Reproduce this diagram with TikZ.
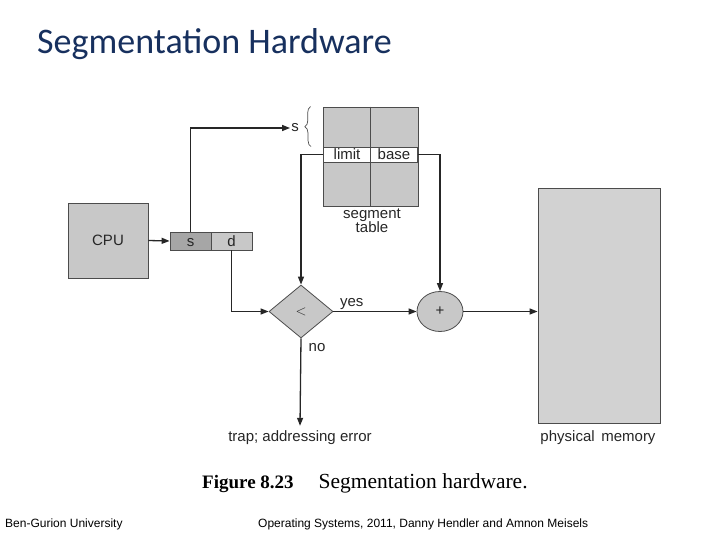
\documentclass[tikz,border=0pt]{standalone}
\usepackage{fontspec}
\setmainfont{Liberation Sans}
\newfontfamily\titlefont{Carlito}
\newfontfamily\capfont{Liberation Serif}
\usetikzlibrary{arrows.meta,shapes.geometric,decorations.pathreplacing}
\definecolor{titleblue}{HTML}{17305E}
\definecolor{boxgray}{HTML}{C8C8C8}
\definecolor{darkgray}{HTML}{A6A6A6}
\definecolor{memgray}{HTML}{D2D2D2}
\begin{document}
\begin{tikzpicture}[x=1pt,y=-1pt,
    box/.style={draw=black!70, fill=boxgray, line width=0.8pt, inner sep=0pt},
    cell/.style={box, minimum width=47pt, minimum height=15pt},
    flow/.style={line width=1.3pt, draw=black!85},
    arr/.style={flow, -{Triangle[length=8pt,width=6pt]}},
    lbl/.style={font=\fontsize{15}{17}\selectfont, text=black!85, inner sep=1pt}]
    \useasboundingbox (0,0) rectangle (720,540);
    % title
    \node[anchor=base west, inner sep=0pt, text=titleblue,
          font=\titlefont\fontsize{36}{40}\selectfont] (title) at (37,54) {Segmentation Hardware};
    % cpu and logical address
    \node[box, minimum width=80pt, minimum height=75pt, lbl] (cpu) at (108,240.5) {CPU};
    \node[box, fill=darkgray, minimum width=41pt, minimum height=18pt, lbl, inner sep=0pt,
          text height=10.5pt, text depth=0pt] (scell) at (190.5,241) {s};
    \node[box, minimum width=41pt, minimum height=18pt, lbl, inner sep=0pt,
          text height=10.5pt, text depth=0pt] (dcell) at (231.5,241) {d};
    % segment table
    \node[box, minimum width=95pt, minimum height=99pt] (segtab) at (370.5,156.5) {};
    \draw[black!70, line width=0.8pt] (segtab.north) -- (segtab.south);
    \node[cell, fill=white, lbl, inner sep=0pt] (limit) at (347,154.5) {limit};
    \node[cell, fill=white, lbl, inner sep=0pt] (base) at (394,154.5) {base};
    \node[lbl, align=center] (seglbl) at (372,221) {segment\\[-3pt]table};
    \node[lbl] (slbl) at (295,128) {s};
    \draw[black!70, line width=0.7pt, decorate, decoration={brace, amplitude=6pt}]
        ([xshift=-12pt]limit.north west) -- ([xshift=-12pt]segtab.north west);
    % compare and add
    \node[box, diamond, minimum width=64pt, minimum height=53pt, lbl] (cmp) at (301,311.5) {$<$};
    \node[box, ellipse, minimum width=46pt, minimum height=40pt, lbl] (add) at (440,311.5) {+};
    \node[box, fill=memgray, minimum width=122pt, minimum height=235pt] (mem) at (599,305.5) {};
    \node[lbl] (memlbl) at (598,438) {physical\, memory};
    \node[lbl] (trap) at (300,438) {trap; addressing error};
    \node[lbl] (no) at (317,348) {no};
    % connectors
    \draw[arr] (cpu.east) -- (scell.west);
    \draw[arr] (scell.north) |- (slbl.west);
    \draw[arr] (limit.west) -| (cmp.north);
    \draw[arr] (base.east) -| (add.north);
    \draw[arr] (dcell.south) |- (cmp.west);
    \draw[arr] (cmp.east) -- node[lbl, pos=0.22, above] (yes) {yes} (add.west);
    \draw[arr] (add.east) -- (add.east -| mem.west);
    \draw[arr] (cmp.south) -- ([yshift=4pt]trap.north);
    % caption and footer
    \node[anchor=base west, inner sep=0pt, font=\capfont] (caption) at (202,488)
        {{\fontsize{19}{22}\selectfont\bfseries Figure 8.23}\hspace{25pt}{\fontsize{21.5}{24}\selectfont Segmentation hardware.}};
    \node[anchor=base west, inner sep=0pt, font=\fontsize{12}{14}\selectfont] (uni) at (5,527) {Ben-Gurion University};
    \node[anchor=base west, inner sep=0pt, font=\fontsize{12}{14}\selectfont] (course) at (258,527)
        {Operating Systems, 2011, Danny Hendler and Amnon Meisels};
\end{tikzpicture}
\end{document}
